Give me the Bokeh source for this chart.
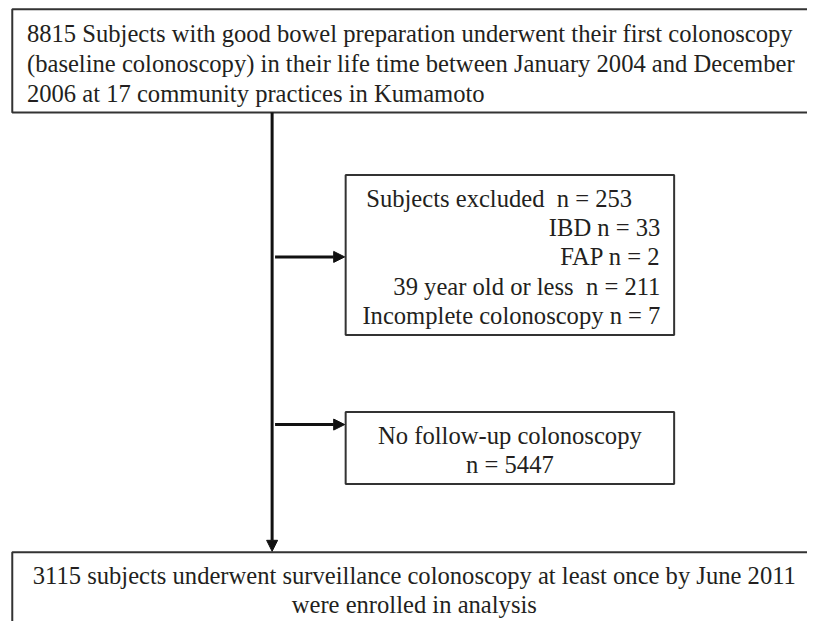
from bokeh.plotting import figure
from bokeh.models import Range1d, Arrow, NormalHead, ColumnDataSource
from bokeh.core.properties import value
from bokeh.embed import file_html
from bokeh.resources import INLINE

# ---- content ----
top_lines = [
    "8815 Subjects with good bowel preparation underwent their first colonoscopy",
    "(baseline colonoscopy) in their life time between January 2004 and December",
    "2006 at 17 community practices in Kumamoto",
]
excl_head = "Subjects excluded\u00a0 n = 253"
excl_lines = [
    "IBD n = 33",
    "FAP n = 2",
    "39 year old or less\u00a0 n = 211",
    "Incomplete colonoscopy n = 7",
]
nofollow_lines = ["No follow-up colonoscopy", "n = 5447"]
bottom_lines = [
    "3115 subjects underwent surveillance colonoscopy at least once by June 2011",
    "were enrolled in analysis",
]

# ---- layout (reference-image pixel coordinates, 823 x 637) ----
W, H = 807, 621
p = figure(width=W, height=H, output_backend="svg", toolbar_location=None,
           x_range=Range1d(0, 823), y_range=Range1d(637, 0),
           min_border=0, tools="")
p.axis.visible = False
p.grid.visible = False
p.outline_line_color = None
p.background_fill_color = "white"

FONT = value("Liberation Serif")
FS = "24.6px"
BOX_COL = "#333333"
TXT = "#231f20"

# boxes: left, right, top, bottom
boxes = dict(
    left=[12, 352, 352, 12],
    right=[880, 687, 687, 880],
    top=[9, 179, 422, 566],
    bottom=[115, 343, 496, 720],
)
p.quad(source=ColumnDataSource(boxes), left="left", right="right", top="top",
       bottom="bottom", fill_color=None, line_color=BOX_COL, line_width=2)

# main vertical line with arrow, and two side arrows
LINE_X = 277
head = dict(size=11, fill_color="#111111", line_color="#111111")
p.add_layout(Arrow(x_start=LINE_X, y_start=115, x_end=LINE_X, y_end=565,
                   line_width=3, line_color="#111111", end=NormalHead(**head)))
for yy in [263, 435]:
    p.add_layout(Arrow(x_start=LINE_X + 3, y_start=yy, x_end=351, y_end=yy,
                       line_width=3, line_color="#111111", end=NormalHead(**head)))

# top box text
p.text(x=[27] * 3, y=[34, 65, 95], text=top_lines, text_font=FONT,
       text_font_size=FS, text_align="left", text_baseline="middle", text_color=TXT)
# excluded box
p.text(x=[373], y=[203], text=[excl_head], text_font=FONT, text_font_size=FS,
       text_align="left", text_baseline="middle", text_color=TXT)
p.text(x=[673] * 4, y=[233, 263, 293, 323], text=excl_lines, text_font=FONT,
       text_font_size=FS, text_align="right", text_baseline="middle", text_color=TXT)
# no follow-up box
p.text(x=[519.5] * 2, y=[446, 476], text=nofollow_lines, text_font=FONT,
       text_font_size=FS, text_align="center", text_baseline="middle", text_color=TXT)
# bottom box
p.text(x=[422] * 2, y=[590, 620], text=bottom_lines, text_font=FONT,
       text_font_size=FS, text_align="center", text_baseline="middle", text_color=TXT)

open("out.html", "w").write(file_html(p, INLINE))
